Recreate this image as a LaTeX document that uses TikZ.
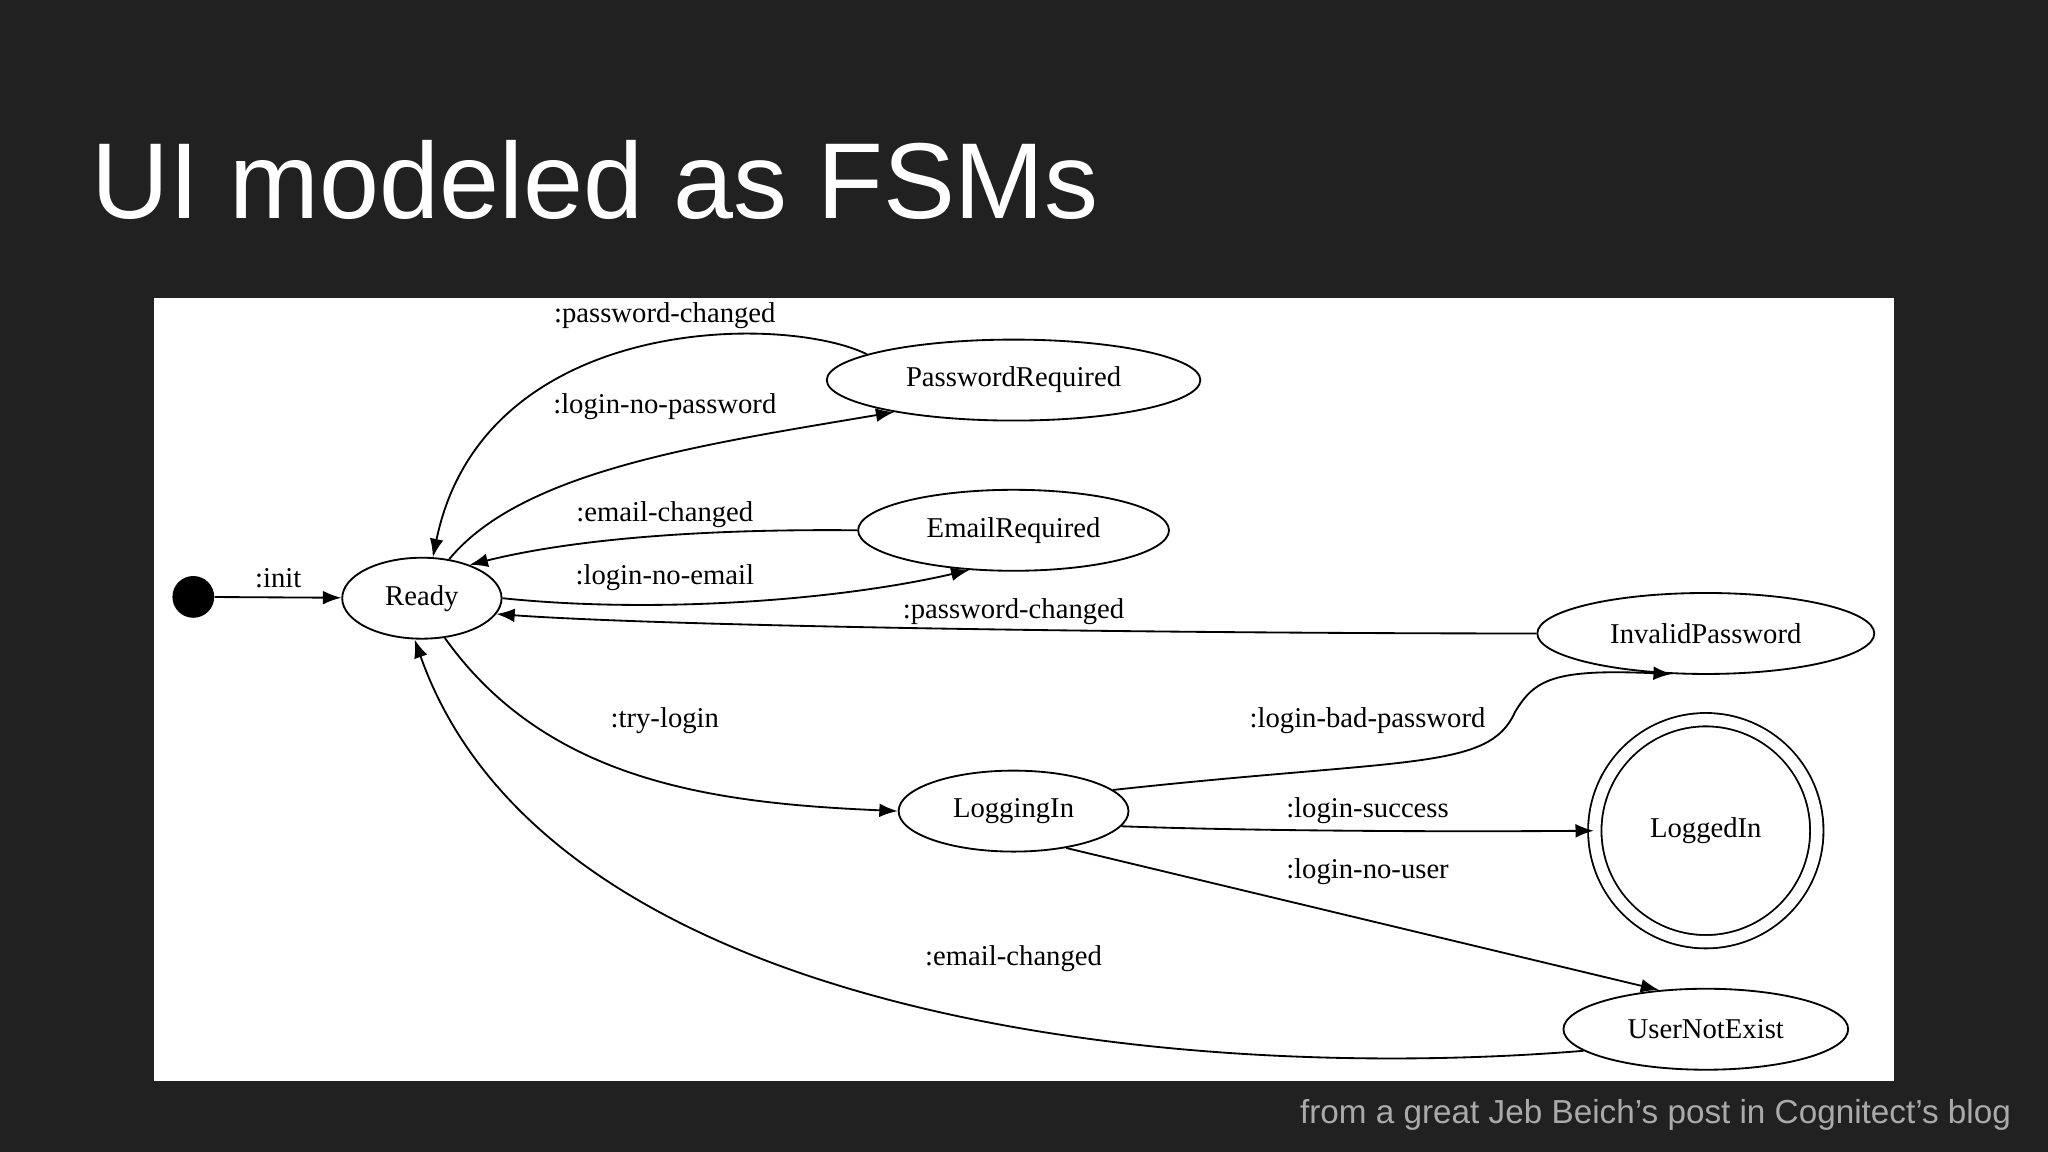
\documentclass[tikz,border=0pt]{standalone}
\usepackage{fontspec}
\setmainfont{Liberation Serif}
\newfontfamily\titlefont{Liberation Sans}
\usetikzlibrary{shapes.geometric,arrows.meta}
\definecolor{bg}{RGB}{33,33,33}
\definecolor{foot}{RGB}{170,170,170}
\begin{document}
\begin{tikzpicture}[x=0.02cm,y=-0.02cm,
  st/.style={ellipse,draw,line width=0.8pt,inner sep=0pt,font=\fontsize{12.5}{14}\selectfont},
  edge/.style={line width=0.8pt,-{Latex[length=8pt,width=6pt]}},
  lbl/.style={font=\fontsize{12.5}{14}\selectfont,inner sep=1pt}]
\fill[bg] (0,0) rectangle (1568,882);
\useasboundingbox (0,0) rectangle (1568,882);
\fill[white] (118,228) rectangle (1450,828);
\node[anchor=base west,text=white,font=\titlefont\fontsize{47}{50}\selectfont,inner sep=0pt] (title) at (70,167) {UI modeled as FSMs};
\node[anchor=base east,text=foot,font=\titlefont\fontsize{14.5}{16}\selectfont,inner sep=0pt] (footer) at (1540,860) {from a great Jeb Beich’s post in Cognitect’s blog};
\node[circle,fill=black,minimum size=32*0.02cm,inner sep=0pt] (start) at (148,457) {};
\node[st,minimum width=122*0.02cm,minimum height=62*0.02cm] (ready) at (323,458) {Ready};
\node[st,minimum width=286*0.02cm,minimum height=62*0.02cm] (pr) at (776,291) {PasswordRequired};
\node[st,minimum width=238*0.02cm,minimum height=62*0.02cm] (er) at (776,406) {EmailRequired};
\node[st,minimum width=258*0.02cm,minimum height=62*0.02cm] (ip) at (1306,485) {InvalidPassword};
\node[st,minimum width=176*0.02cm,minimum height=62*0.02cm] (li) at (776,621) {LoggingIn};
\node[circle,draw,double,double distance=5pt,line width=0.8pt,minimum size=170*0.02cm,inner sep=0pt,font=\fontsize{12.5}{14}\selectfont] (ld) at (1306,636) {LoggedIn};
\node[st,minimum width=218*0.02cm,minimum height=62*0.02cm] (une) at (1306,788) {UserNotExist};
\draw[edge] (start) -- (ready);
\node[lbl] (l1) at (213,443) {:init};
\draw[edge] (pr.170) .. controls (600,240) and (370,240) .. (ready.75);
\node[lbl] (l2) at (509,242) {:password-changed};
\draw[edge] (ready.55) .. controls (400,360) and (540,340) .. (pr.195);
\node[lbl] (l3) at (509,311) {:login-no-password};
\draw[edge] (er.west) .. controls (560,405) and (450,410) .. (ready.35);
\node[lbl] (l4) at (509,394) {:email-changed};
\draw[edge] (ready.east) .. controls (500,470) and (640,460) .. (er.222);
\node[lbl] (l5) at (509,442) {:login-no-email};
\draw[edge] (ip.west) .. controls (900,485) and (520,480) .. (ready.-12);
\node[lbl] (l6) at (776,468) {:password-changed};
\draw[edge] (ready.-60) .. controls (420,600) and (550,615) .. (li.west);
\node[lbl] (l7) at (509,552) {:try-login};
\draw[edge] (li.12) .. controls (1080,580) and (1140,590) .. (1160,545) .. controls (1175,520) and (1190,512) .. (ip.230);
\node[lbl] (l8) at (1047,552) {:login-bad-password};
\draw[edge] (li.-8) .. controls (950,636) and (1100,637) .. (ld.west);
\node[lbl] (l9) at (1047,621) {:login-success};
\draw[edge] (li.-35) -- (une.140);
\node[lbl] (l10) at (1047,667) {:login-no-user};
\draw[edge] (une.190) .. controls (900,830) and (420,780) .. (ready.-100);
\node[lbl] (l11) at (776,734) {:email-changed};
\end{tikzpicture}
\end{document}
